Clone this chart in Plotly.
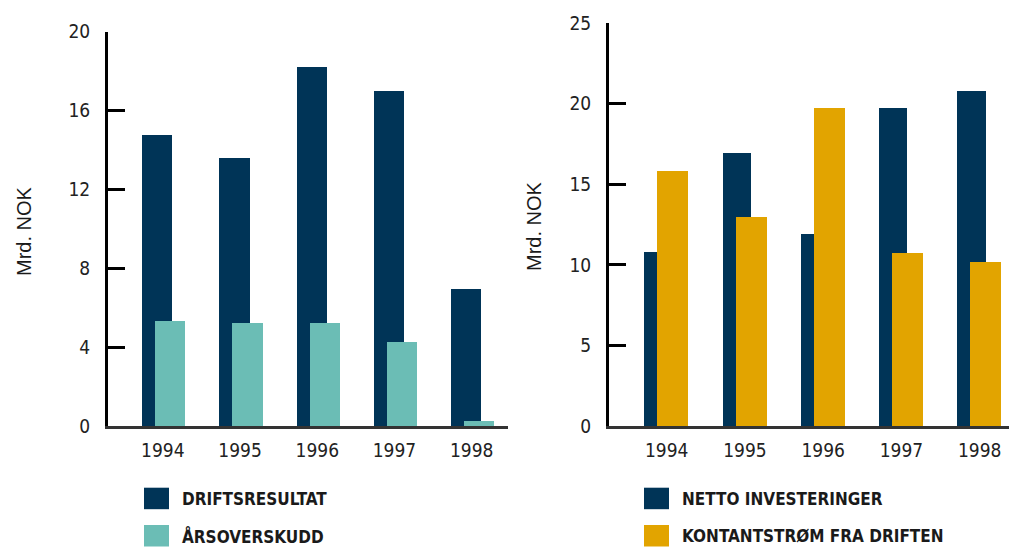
import plotly.graph_objects as go

years = ["1994", "1995", "1996", "1997", "1998"]

# Left chart (Mrd. NOK)
driftsresultat = [14.8, 13.6, 18.25, 17.0, 6.95]
arsoverskudd = [5.35, 5.25, 5.25, 4.3, 0.28]

# Right chart (Mrd. NOK)
netto_investeringer = [10.8, 16.95, 11.9, 19.75, 20.8]
kontantstrom = [15.8, 12.95, 19.7, 10.75, 10.15]

left_ticks = [0, 4, 8, 12, 16, 20]
right_ticks = [0, 5, 10, 15, 20, 25]

NAVY = "#003457"
TEAL = "#6bbdb5"
GOLD = "#e2a400"

W, H = 1009, 547
FAM = "Liberation Sans Narrow, DejaVu Sans Condensed, Arial Narrow, sans-serif"
TICK_FONT = dict(family=FAM, size=19, color="#222222")
LEG_FONT = dict(family=FAM, size=17, color="#1a1a1a")

fig = go.Figure()
fig.add_trace(go.Bar(x=years, y=driftsresultat, name="DRIFTSRESULTAT", marker_color=NAVY,
                     width=0.39, offset=-0.267, xaxis="x", yaxis="y", showlegend=False))
fig.add_trace(go.Bar(x=years, y=arsoverskudd, name="ÅRSOVERSKUDD", marker_color=TEAL,
                     width=0.39, offset=-0.098, xaxis="x", yaxis="y", showlegend=False))
fig.add_trace(go.Bar(x=years, y=netto_investeringer, name="NETTO INVESTERINGER", marker_color=NAVY,
                     width=0.36, offset=-0.286, xaxis="x2", yaxis="y2", showlegend=False))
fig.add_trace(go.Bar(x=years, y=kontantstrom, name="KONTANTSTRØM FRA DRIFTEN", marker_color=GOLD,
                     width=0.395, offset=-0.118, xaxis="x2", yaxis="y2", showlegend=False))

for t in fig.data:
    t.marker.line.width = 0

y_bottom = 1 - 426 / H

def yax(domain_top, rng, ticks, anchor):
    return dict(domain=[y_bottom, domain_top], range=rng, tickvals=ticks, ticktext=[str(v) for v in ticks],
                showgrid=False, zeroline=False, showline=True, linecolor="#000000", linewidth=3,
                ticks="inside", ticklen=17, tickwidth=3, tickcolor="#000000",
                tickfont=TICK_FONT, ticklabelstandoff=11, anchor=anchor, fixedrange=True,
                automargin=False)

def xax(domain, rng, anchor):
    return dict(domain=domain, range=rng, type="category", showgrid=False, zeroline=False,
                showline=True, linecolor="#333333", linewidth=3, ticks="",
                tickfont=TICK_FONT, ticklabelstandoff=5, anchor=anchor, fixedrange=True,
                automargin=False)

fig.update_layout(
    width=W, height=H, autosize=False,
    margin=dict(l=0, r=0, t=0, b=0, pad=0),
    paper_bgcolor="white", plot_bgcolor="white",
    barmode="overlay", bargap=0,
    xaxis=xax([108 / W, 508 / W], [-0.71, 4.47], "y"),
    yaxis=yax(1 - 31.7 / H, [0, 20], left_ticks, "x"),
    xaxis2=xax([609 / W, 1.0], [-0.737, 4.374], "y2"),
    yaxis2=yax(1 - 23.3 / H, [0, 25], right_ticks, "x2"),
    showlegend=False,
)

# Axis titles
title_font = dict(family="Liberation Sans, Arial, sans-serif", size=20, color="#1a1a1a")
fig.add_annotation(text="Mrd. NOK", textangle=-90, x=24 / W, y=1 - 231 / H, xref="paper", yref="paper",
                   showarrow=False, font=title_font, xanchor="center", yanchor="middle")
fig.add_annotation(text="Mrd. NOK", textangle=-90, x=534 / W, y=1 - 226 / H, xref="paper", yref="paper",
                   showarrow=False, font=title_font, xanchor="center", yanchor="middle")

# Legends (swatch + label)
legend_items = [
    (144, 487.7, "DRIFTSRESULTAT", NAVY),
    (144, 525.0, "ÅRSOVERSKUDD", TEAL),
    (644, 487.7, "NETTO INVESTERINGER", NAVY),
    (644, 525.0, "KONTANTSTRØM FRA DRIFTEN", GOLD),
]
for x0, y0, label, col in legend_items:
    fig.add_shape(type="rect", xref="paper", yref="paper",
                  x0=x0 / W, x1=(x0 + 25) / W, y0=1 - y0 / H, y1=1 - (y0 + 21.5) / H,
                  fillcolor=col, line=dict(width=0))
    fig.add_annotation(text="<b>" + label + "</b>", x=(x0 + 36) / W, y=1 - (y0 + 11) / H,
                       xref="paper", yref="paper", showarrow=False, xanchor="left", yanchor="middle",
                       font=LEG_FONT)

fig.write_html("out.html", config={"displayModeBar": False},
               post_script="document.body.style.margin='0';document.body.style.padding='0';document.body.style.overflow='hidden';")
